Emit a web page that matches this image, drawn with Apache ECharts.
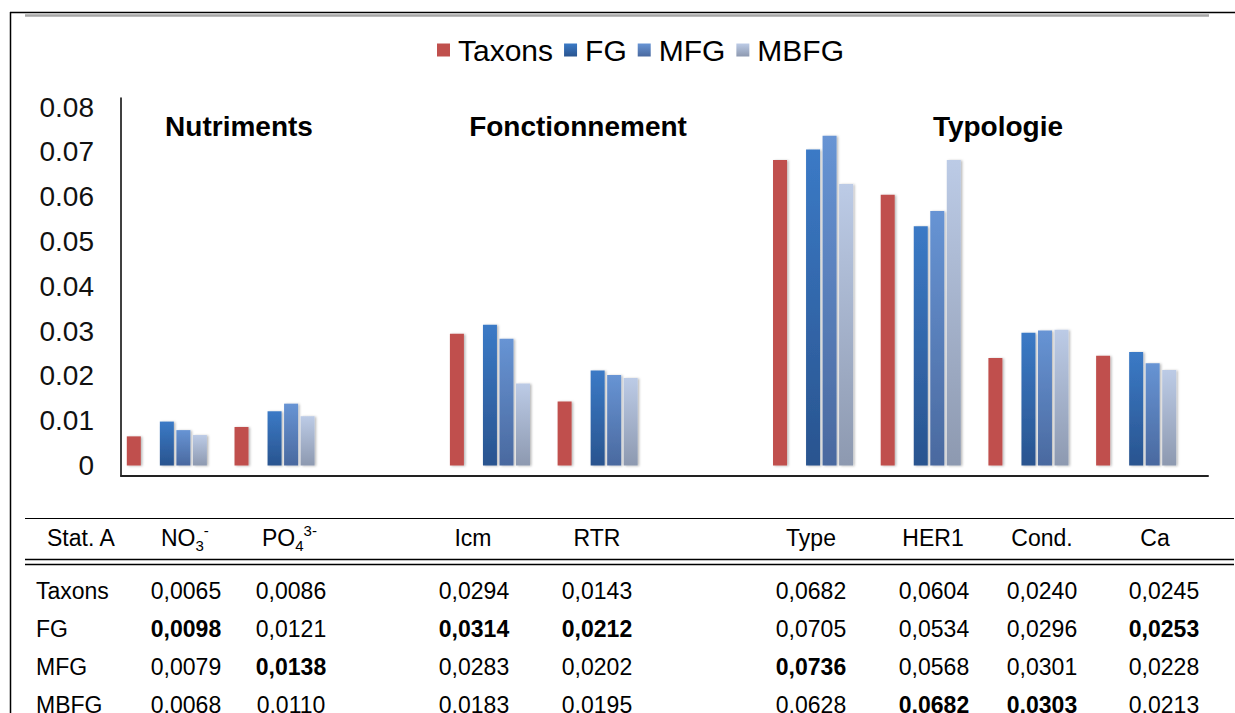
<!DOCTYPE html>
<html>
<head>
<meta charset="utf-8">
<script src="https://cdn.jsdelivr.net/npm/echarts@6/dist/echarts.min.js"></script>
<style>
  html, body { margin: 0; padding: 0; background: #fff; }
  #chart { width: 1235px; height: 713px; }
</style>
</head>
<body>
<div id="chart"></div>
<script>
// variables tested (one column of the table each)
const variables = ['NO3', 'PO4', 'Icm', 'RTR', 'Type', 'HER1', 'Cond.', 'Ca'];
const groupNames = ['Nutriments', 'Fonctionnement', 'Typologie'];
const groupSizes = [2, 2, 4];

// Stat. A values per variable
const taxons = [0.0065, 0.0086, 0.0294, 0.0143, 0.0682, 0.0604, 0.0240, 0.0245];
const fg     = [0.0098, 0.0121, 0.0314, 0.0212, 0.0705, 0.0534, 0.0296, 0.0253];
const mfg    = [0.0079, 0.0138, 0.0283, 0.0202, 0.0736, 0.0568, 0.0301, 0.0228];
const mbfg   = [0.0068, 0.0110, 0.0183, 0.0195, 0.0628, 0.0682, 0.0303, 0.0213];

const seriesNames = ['Taxons', 'FG', 'MFG', 'MBFG'];
const yTicks = [0, 0.01, 0.02, 0.03, 0.04, 0.05, 0.06, 0.07, 0.08];

const FONT = '"Liberation Sans", Arial, sans-serif';

// categories on the axis: an empty slot between each group
const categories = [];
const slotIndex = []; // variable -> category index
let k = 0;
groupSizes.forEach((n, g) => {
  if (g > 0) categories.push(' '.repeat(g)); // spacer
  for (let i = 0; i < n; i++) {
    slotIndex.push(categories.length);
    categories.push(variables[k++]);
  }
});
const spread = (vals) => {
  const out = categories.map(() => null);
  vals.forEach((v, i) => { out[slotIndex[i]] = v; });
  return out;
};

const grad = (top, bottom) => new echarts.graphic.LinearGradient(0, 0, 0, 1, [
  { offset: 0, color: top },
  { offset: 1, color: bottom }
]);

const barBase = {
  type: 'bar',
  barWidth: 14,
  barGap: '18%',
  xAxisIndex: 0,
  yAxisIndex: 0,
  silent: true
};
const shadow = { shadowBlur: 2, shadowOffsetX: 1.5, shadowOffsetY: 0.5, shadowColor: 'rgba(0,0,0,0.28)' };

const series = [
  { ...barBase, name: 'Taxons', data: spread(taxons), itemStyle: { color: '#c0504d', ...shadow } },
  { ...barBase, name: 'spacer', data: categories.map(() => null) },
  { ...barBase, name: 'FG', data: spread(fg), itemStyle: { color: grad('#3b7ac6', '#29548f'), ...shadow } },
  { ...barBase, name: 'MFG', data: spread(mfg), itemStyle: { color: grad('#6794d4', '#4a699f'), ...shadow } },
  { ...barBase, name: 'MBFG', data: spread(mbfg), itemStyle: { color: grad('#bccbe6', '#8d99b0'), ...shadow } }
];

// ---- table under the chart ----
const fmt = (v) => v.toFixed(4).replace('.', ',');
const rows = [taxons, fg, mfg, mbfg];
const colX = [186, 291, 474, 597, 811, 934, 1042, 1164];
const rowY = [591, 629, 667, 705];
const txt = (x, y, text, opt) => ({
  type: 'text', x: x, y: y, silent: true,
  style: Object.assign({ text: text, fill: '#000', font: '23px ' + FONT, textAlign: 'center', textVerticalAlign: 'middle' }, opt || {})
});

const tableEls = [];
// header
tableEls.push(txt(47, 538, 'Stat. A', { textAlign: 'left' }));
const chem = (x, base, sub, sup) => ({
  type: 'text', x: x, y: 538, silent: true,
  style: {
    text: '{a|' + base + '}{b|' + sub + '}{c|' + sup + '}',
    textAlign: 'left', textVerticalAlign: 'middle', fill: '#000',
    rich: {
      a: { fontSize: 23, fontFamily: FONT, lineHeight: 30, fill: '#000' },
      b: { fontSize: 15, fontFamily: FONT, lineHeight: 30, verticalAlign: 'bottom', fill: '#000' },
      c: { fontSize: 15, fontFamily: FONT, lineHeight: 30, verticalAlign: 'top', fill: '#000' }
    }
  }
});
tableEls.push(chem(161, 'NO', '3', '-'));
tableEls.push(chem(262, 'PO', '4', '3-'));
const headX = { Icm: 473, RTR: 597, Type: 811, HER1: 933, 'Cond.': 1042, Ca: 1155 };
variables.forEach((v) => { if (headX[v]) tableEls.push(txt(headX[v], 538, v)); });
// rows
rows.forEach((vals, r) => {
  tableEls.push(txt(36, rowY[r], seriesNames[r], { textAlign: 'left' }));
  vals.forEach((v, c) => {
    const max = Math.max(...rows.map((row) => row[c]));
    const bold = v === max;
    tableEls.push(txt(colX[c], rowY[r], fmt(v), { font: (bold ? 'bold ' : '') + '23px ' + FONT }));
  });
});

// group titles
const titleX = [239, 578, 998];
const titleEls = groupNames.map((name, i) => txt(titleX[i], 126, name, { font: 'bold 28px ' + FONT }));

// frame and table rules
const line = (x1, y1, x2, y2, color, w) => ({
  type: 'line', silent: true,
  shape: { x1: x1, y1: y1, x2: x2, y2: y2 },
  style: { stroke: color, lineWidth: w }
});
const frameEls = [
  line(10, 12.5, 1235, 12.5, '#000', 1.5),
  line(10.5, 12, 10.5, 713, '#000', 1.5),
  line(25, 15.5, 1209, 15.5, '#a6a6a6', 2.5),
  line(25, 518.5, 1234, 518.5, '#000', 1),
  line(25, 559.5, 1234, 559.5, '#000', 1.6),
  line(25, 564.5, 1234, 564.5, '#000', 1.6)
];

const chart = echarts.init(document.getElementById('chart'), null, { renderer: 'svg' });

chart.setOption({
  backgroundColor: '#fff',
  animation: false,
  textStyle: { fontFamily: FONT },
  legend: {
    data: seriesNames,
    left: 432,
    top: 30,
    icon: 'rect',
    itemWidth: 13,
    itemHeight: 13,
    itemGap: 11,
    itemStyle: { shadowBlur: 0, shadowOffsetX: 0, shadowOffsetY: 0 },
    textStyle: { fontSize: 30, color: '#000', fontFamily: FONT, padding: [0, 0, 0, 3] },
    selectedMode: false
  },
  grid: [
    // bars + y labels
    { left: 113, top: 107, width: 1077, height: 358.5 },
    // visible axis lines
    { left: 121, top: 98, width: 1087, height: 378 }
  ],
  xAxis: [
    {
      type: 'category', gridIndex: 0, data: categories,
      axisLine: { show: false }, axisTick: { show: false }, axisLabel: { show: false }
    },
    {
      type: 'value', gridIndex: 1, min: 0, max: 1,
      axisLine: { show: true, lineStyle: { color: '#222', width: 2 } },
      axisTick: { show: false }, axisLabel: { show: false }, splitLine: { show: false }
    }
  ],
  yAxis: [
    {
      type: 'value', gridIndex: 0,
      min: yTicks[0], max: yTicks[yTicks.length - 1], interval: yTicks[1] - yTicks[0],
      axisLine: { show: false }, axisTick: { show: false }, splitLine: { show: false },
      axisLabel: {
        margin: 19, fontSize: 28, color: '#111', fontFamily: FONT,
        formatter: (v) => (v === 0 ? '0' : v.toFixed(2))
      }
    },
    {
      type: 'value', gridIndex: 1, min: 0, max: 1,
      axisLine: { show: true, lineStyle: { color: '#000', width: 1.5 } },
      axisTick: { show: false }, axisLabel: { show: false }, splitLine: { show: false }
    }
  ],
  series: series,
  graphic: { elements: frameEls.concat(titleEls, tableEls) }
});
</script>
</body>
</html>
